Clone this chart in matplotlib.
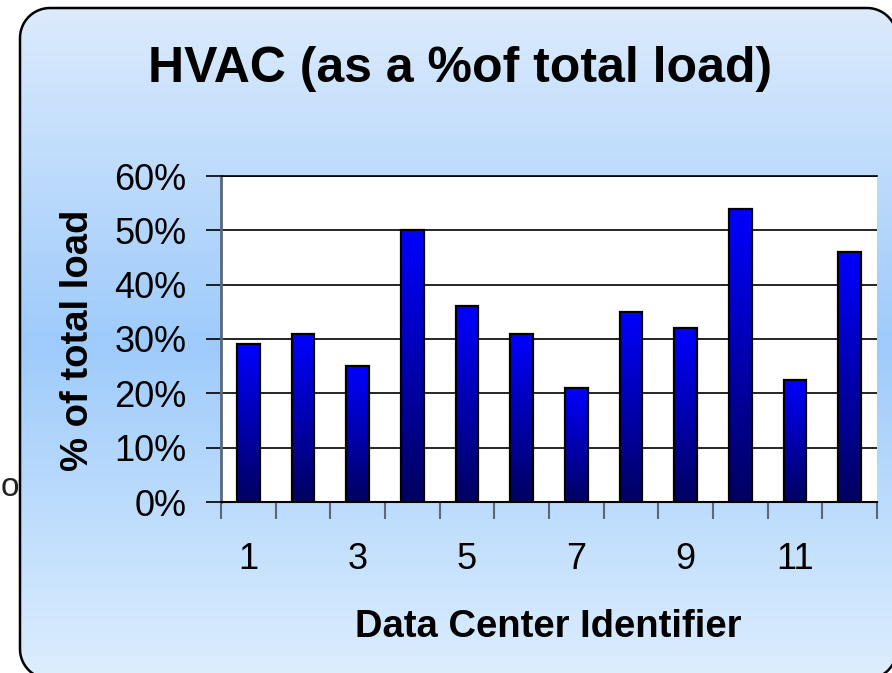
import numpy as np
import matplotlib
matplotlib.use("Agg")
import matplotlib.pyplot as plt
from matplotlib.colors import LinearSegmentedColormap
from matplotlib.patches import PathPatch
from matplotlib.path import Path

# ---- data ----
centers = list(range(1, 13))
hvac_share = [0.29, 0.31, 0.25, 0.50, 0.36, 0.31, 0.21, 0.35, 0.32, 0.54, 0.225, 0.46]
xtick_labels = ["1", "3", "5", "7", "9", "11"]
xtick_pos = [1, 3, 5, 7, 9, 11]
yticks = [0.0, 0.1, 0.2, 0.3, 0.4, 0.5, 0.6]
ytick_labels = ["0%", "10%", "20%", "30%", "40%", "50%", "60%"]

plt.rcParams['font.family'] = ['Liberation Sans', 'DejaVu Sans']

W, H = 892, 673
fig = plt.figure(figsize=(W / 100, H / 100), dpi=100)
fig.patch.set_facecolor("white")

# ---- background rounded panel with vertical gradient (pixel coords, y up) ----
bg = fig.add_axes([0, 0, 1, 1], zorder=0)
bg.axis("off")
bx0, bx1 = 20, 897
by0, by1 = H - 679, H - 8
r = 30


def rounded_rect(x0, y0, x1, y1, rad, n=24):
    pts = []
    corners = [(x1 - rad, y1 - rad, 0, 90), (x0 + rad, y1 - rad, 90, 180),
               (x0 + rad, y0 + rad, 180, 270), (x1 - rad, y0 + rad, 270, 360)]
    for cx, cy, a0, a1 in corners:
        t = np.radians(np.linspace(a0, a1, n))
        pts.extend(zip(cx + rad * np.cos(t), cy + rad * np.sin(t)))
    pts.append(pts[0])
    return Path(pts, closed=True)


box_path = rounded_rect(bx0, by0, bx1, by1, r)
box = PathPatch(box_path, facecolor="none", edgecolor="black", linewidth=1.8, zorder=3)
box.set_clip_on(False)
bg.add_patch(box)
bg_cmap = LinearSegmentedColormap.from_list(
    "bg", [(0.0, "#ddeefe"), (0.5, "#9ecbfb"), (1.0, "#dcebfd")])
grad = np.linspace(0, 1, 256).reshape(-1, 1)
im = bg.imshow(grad, cmap=bg_cmap, extent=[bx0, bx1, by0, by1],
               origin="lower", aspect="auto", zorder=1)
im.set_clip_path(box)
bg.set_xlim(0, W)
bg.set_ylim(0, H)
bg.text(10, H - 487, "o", fontsize=24, ha="center", va="center", color="#222222")

# ---- main plot ----
left, right, bottom, top = 221 / W, 877 / W, 1 - 502 / H, 1 - 176 / H
ax = fig.add_axes([left, bottom, right - left, top - bottom], zorder=2)
ax.set_facecolor("white")

bars = ax.bar(centers, hvac_share, width=0.42, color="none", edgecolor="black",
              linewidth=1.6, zorder=4)
bar_cmap = LinearSegmentedColormap.from_list("bar", ["#000060", "#0000ff"])
for b in bars:
    x0, y0 = b.get_x(), b.get_y()
    w, h = b.get_width(), b.get_height()
    g = ax.imshow(np.linspace(1, 0, 256).reshape(-1, 1), cmap=bar_cmap,
                  extent=[x0, x0 + w, y0, y0 + h], aspect="auto", zorder=3)
    g.set_clip_path(b)

ax.set_xlim(0.5, 12.5)
ax.set_ylim(0, 0.6)
ax.set_aspect("auto")

ax.set_yticks(yticks)
ax.set_yticklabels(ytick_labels, fontsize=26)
ax.yaxis.grid(True, color="black", linewidth=1.2, zorder=1)
ax.set_axisbelow(True)
ax.tick_params(axis="y", direction="out", length=11, width=1.2, color="black", pad=14)

ax.set_xticks(np.arange(0.5, 13.0, 1.0))
ax.set_xticklabels([])
ax.set_xticks(xtick_pos, minor=True)
ax.set_xticklabels(xtick_labels, minor=True, fontsize=26)
ax.tick_params(axis="x", which="major", direction="out", length=12, width=1.5, color="#5a6878")
ax.tick_params(axis="x", which="minor", length=0, pad=29)

ax.spines["right"].set_visible(False)
ax.spines["top"].set_color("black")
ax.spines["top"].set_linewidth(1.2)
ax.spines["left"].set_color("#5a6878")
ax.spines["left"].set_linewidth(2)
ax.spines["bottom"].set_color("black")
ax.spines["bottom"].set_linewidth(1.5)

# ---- texts ----
fig.text(460 / W, 1 - 82 / H, "HVAC (as a %of total load)", fontsize=36,
         fontweight="bold", ha="center", va="baseline", zorder=5)
fig.text(78 / W, 1 - 340 / H, "% of total load", fontsize=27.5, fontweight="bold",
         rotation=90, ha="center", va="center", zorder=5)
fig.text(548 / W, 1 - 637 / H, "Data Center Identifier", fontsize=27.5,
         fontweight="bold", ha="center", va="baseline", zorder=5)

fig.savefig("out.png", dpi=100)
